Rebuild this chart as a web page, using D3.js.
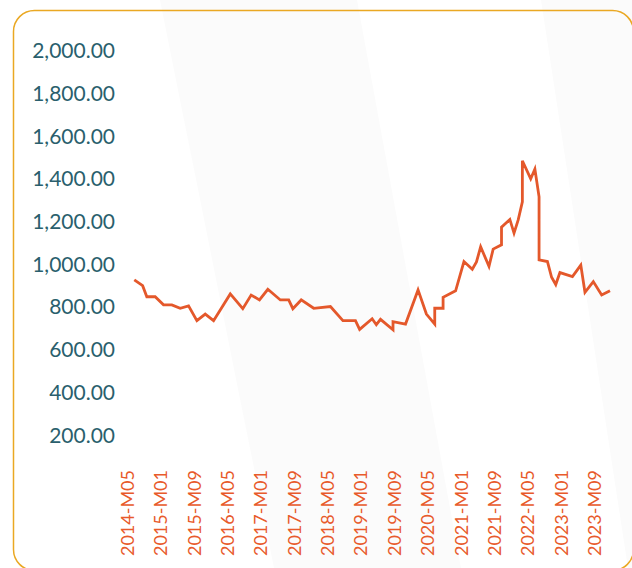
<!DOCTYPE html>
<html lang="en">
<head>
    <meta charset="utf-8">
    <title>Monthly price chart</title>
    <script src="https://d3js.org/d3.v7.min.js"></script>
    <style>
        body { margin: 0; background: #ffffff; }
        svg { display: block; }
    </style>
</head>
<body>
<div id="chart-container"></div>
<script>
    // Data (points where the line changes direction)
    const periods = [
        "2014-M05", "2014-M07", "2014-M08", "2014-M10", "2014-M12", "2015-M02", "2015-M04", "2015-M06",
        "2015-M08", "2015-M10", "2015-M12", "2016-M04", "2016-M07", "2016-M09", "2016-M11", "2017-M01",
        "2017-M04", "2017-M06", "2017-M07", "2017-M09", "2017-M12", "2018-M04", "2018-M07", "2018-M10",
        "2018-M11", "2019-M02", "2019-M03", "2019-M04", "2019-M07", "2019-M07", "2019-M10", "2020-M01",
        "2020-M03", "2020-M05", "2020-M05", "2020-M07", "2020-M07", "2020-M10", "2020-M12", "2021-M02",
        "2021-M03", "2021-M04", "2021-M06", "2021-M07", "2021-M09", "2021-M09", "2021-M11", "2021-M12",
        "2022-M01", "2022-M02", "2022-M02", "2022-M04", "2022-M05", "2022-M06", "2022-M06", "2022-M08",
        "2022-M09", "2022-M10", "2022-M11", "2023-M02", "2023-M04", "2023-M05", "2023-M07", "2023-M09",
        "2023-M11"
    ];
    const values = [
        928, 901, 849, 849, 811, 811, 795, 806,
        737, 768, 737, 862, 793, 857, 834, 884,
        834, 834, 793, 834, 795, 803, 737, 737,
        696, 746, 718, 743, 694, 732, 721, 881,
        768, 721, 795, 795, 846, 877, 1014, 978,
        1012, 1083, 991, 1072, 1092, 1175, 1211, 1147,
        1209, 1294, 1486, 1401, 1447, 1317, 1022, 1014,
        940, 906, 962, 943, 997, 870, 920, 857,
        877
    ];
    const xTickLabels = [
        "2014-M05", "2015-M01", "2015-M09", "2016-M05", "2017-M01", "2017-M09", "2018-M05", "2019-M01",
        "2019-M09", "2020-M05", "2021-M01", "2021-M09", "2022-M05", "2023-M01", "2023-M09"
    ];
    const yTicks = [200, 400, 600, 800, 1000, 1200, 1400, 1600, 1800, 2000];

    // every month from the first to the last period, for the category axis
    const months = [];
    for (let y = 2014, m = 5; y < 2023 || (y === 2023 && m <= 11); ) {
        months.push(y + "-M" + String(m).padStart(2, "0"));
        m++;
        if (m > 12) { m = 1; y++; }
    }

    const data = periods.map((p, i) => ({ period: p, value: values[i] }));

    const width = 632;
    const height = 568;
    const font = "'Gill Sans', 'Gill Sans MT', Lato, sans-serif";

    const svg = d3.select("#chart-container")
        .append("svg")
        .attr("width", width)
        .attr("height", height);

    // faint background shapes
    const bands = [
        [[160, 0], [357, 0], [461, 568], [274, 568]],
        [[541, 0], [640, 0], [640, 568], [628, 568]]
    ];
    svg.selectAll(".band")
        .data(bands)
        .enter()
        .append("polygon")
        .attr("class", "band")
        .attr("points", d => d.map(p => p.join(",")).join(" "))
        .attr("fill", "#fbfbfb");

    // frame
    svg.append("rect")
        .attr("x", 13.5)
        .attr("y", 10.5)
        .attr("width", 620)
        .attr("height", 560)
        .attr("rx", 21)
        .attr("fill", "none")
        .attr("stroke", "#eaa823")
        .attr("stroke-width", 1.5);

    // Scales
    const xScale = d3.scalePoint()
        .domain(months)
        .range([134.3, 610]);

    const yScale = d3.scaleLinear()
        .domain([0, 2000])
        .range([478, 51]);

    // y axis
    const yAxis = svg.append("g")
        .attr("transform", "translate(115,0)")
        .call(d3.axisLeft(yScale).tickValues(yTicks).tickFormat(d3.format(",.2f")).tickSize(0).tickPadding(0));
    yAxis.select(".domain").remove();
    yAxis.selectAll("text")
        .attr("fill", "#2a5f6d")
        .style("font-family", font)
        .style("font-size", "21px");

    // x axis, labels turned upright
    const xAxis = svg.append("g")
        .attr("transform", "translate(0,460)")
        .call(d3.axisBottom(xScale).tickValues(xTickLabels).tickSize(0));
    xAxis.select(".domain").remove();
    xAxis.selectAll("text")
        .attr("transform", "rotate(-90)")
        .attr("text-anchor", "end")
        .attr("x", -10)
        .attr("y", -1)
        .attr("dy", 0)
        .attr("fill", "#e85a2b")
        .style("font-family", font)
        .style("font-size", "18px");

    // line
    const line = d3.line()
        .x(d => xScale(d.period))
        .y(d => yScale(d.value));

    svg.append("path")
        .datum(data)
        .attr("fill", "none")
        .attr("stroke", "#e4582b")
        .attr("stroke-width", 2.8)
        .attr("d", line);
</script>
</body>
</html>
